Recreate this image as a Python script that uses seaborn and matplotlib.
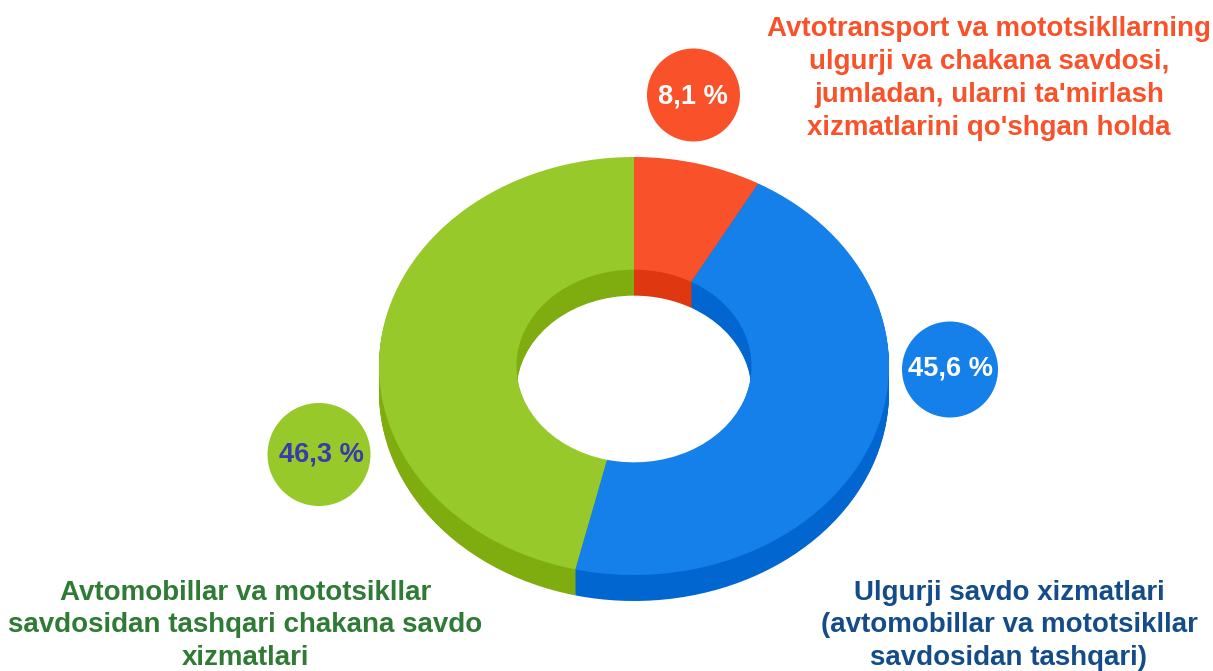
import matplotlib
matplotlib.use("Agg")
import matplotlib.pyplot as plt
import seaborn as sns

# Data
categories = ["avtotransport", "ulgurji", "chakana"]
shares = [8.1, 45.6, 46.3]
value_labels = ["8,1 %", "45,6 %", "46,3 %"]
names = [
    "Avtotransport va mototsikllarning\nulgurji va chakana savdosi,\njumladan, ularni ta'mirlash\nxizmatlarini qo'shgan holda",
    "Ulgurji savdo xizmatlari\n(avtomobillar va mototsikllar\nsavdosidan tashqari)",
    "Avtomobillar va mototsikllar\nsavdosidan tashqari chakana savdo\nxizmatlari",
]

# Colours
top_colors = ["#F9512A", "#1580EA", "#97C92A"]
side_colors = ["#DF3810", "#0266D0", "#7FAD10"]
name_colors = ["#F9512A", "#134C88", "#2F7A34"]
value_colors = ["white", "white", "#3A3AAA"]

# Layout, in pixels of the 1213x671 picture
W, H = 1213, 671
CX, CY = 634, 366
RX, RY = 255, 209
DEPTH = 26
HOLE = 0.461
bubble_px = [(693.5, 95), (950, 369.5), (319, 454.5)]
bubble_d = [93, 96, 103]
value_px = [(693, 96.5), (950, 368.5), (321, 455)]
name_px = [(989, 78.5), (1009, 625.5), (245.5, 625.5)]


def to_data(x, y):
    return (x - CX) / RX, (CY - y) / RY


def draw_donut(ax):
    # side wall: dark rings stacked from the bottom up, the top face last
    for px in range(DEPTH, 0, -1):
        ax.pie(shares, colors=side_colors, startangle=90, counterclock=False,
               center=(0, -px / RY), wedgeprops={"width": 1 - HOLE, "linewidth": 0})
    ax.pie(shares, colors=top_colors, startangle=90, counterclock=False,
           wedgeprops={"width": 1 - HOLE, "linewidth": 0})


def draw_bubbles(ax):
    points = [to_data(x, y) for x, y in bubble_px]
    sns.scatterplot(x=[p[0] for p in points], y=[p[1] for p in points],
                    hue=categories, palette=dict(zip(categories, top_colors)),
                    size=categories,
                    sizes={c: (d * 0.72) ** 2 for c, d in zip(categories, bubble_d)},
                    linewidth=0, legend=False, ax=ax, zorder=3)
    for (x, y), label, color in zip(value_px, value_labels, value_colors):
        tx, ty = to_data(x, y)
        ax.text(tx, ty, label, color=color, fontsize=19.6, fontweight="bold",
                ha="center", va="center", zorder=4)


def main():
    sns.set_theme(style="white")
    plt.rcParams["font.family"] = ["Liberation Sans", "DejaVu Sans"]

    fig = plt.figure(figsize=(W / 100, H / 100), dpi=100)
    ax = fig.add_axes([0, 0, 1, 1])

    draw_donut(ax)
    draw_bubbles(ax)

    for (x, y), name, color in zip(name_px, names, name_colors):
        tx, ty = to_data(x, y)
        ax.text(tx, ty, name, color=color, fontsize=20, fontweight="bold",
                ha="center", va="center", linespacing=1.34, zorder=4)

    # the pie sets an equal aspect, the tilted look needs separate scales
    ax.set_aspect("auto")
    ax.set_xlim(to_data(0, 0)[0], to_data(W, 0)[0])
    ax.set_ylim(to_data(0, H)[1], to_data(0, 0)[1])
    ax.axis("off")

    plt.savefig("out.png", dpi=100)


if __name__ == '__main__':
    main()
